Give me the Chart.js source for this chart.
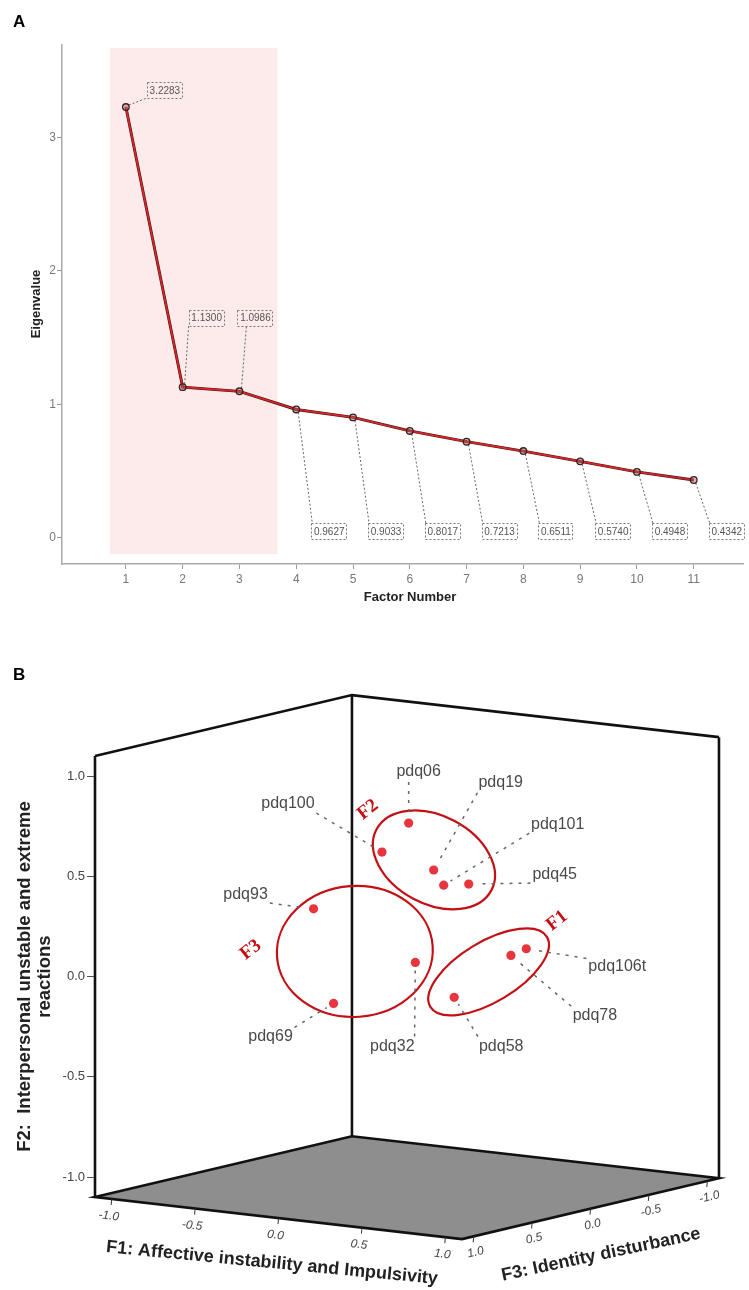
<!DOCTYPE html>
<html><head><meta charset="utf-8">
<script src="https://cdn.jsdelivr.net/npm/chart.js@4.4.1/dist/chart.umd.min.js"></script>
<style>
html,body{margin:0;padding:0;background:#fff;}
canvas{display:block;}
</style></head>
<body>
<canvas id="chartA" width="749" height="640"></canvas>
<canvas id="chartB" width="749" height="650"></canvas>
<script>
// ================= Panel A data (scree plot) =================
const factorNumbers = [1, 2, 3, 4, 5, 6, 7, 8, 9, 10, 11];
const eigenvalues = [3.2283, 1.1300, 1.0986, 0.9627, 0.9033, 0.8017, 0.7213, 0.6511, 0.5740, 0.4948, 0.4342];
const eigenTicks = [0, 1, 2, 3];
const retainedFactors = [1, 2, 3];
const titleA = { x: 'Factor Number', y: 'Eigenvalue' };

// ================= Panel B data (3D loading plot) =================
const items   = ['pdq06', 'pdq100', 'pdq19', 'pdq101', 'pdq45', 'pdq93', 'pdq69', 'pdq32', 'pdq58', 'pdq78', 'pdq106t'];
const loadF1  = [0.08, -0.08, 0.23, 0.29, 0.44, -0.14, -0.02, 0.33, 0.50, 0.70, 0.75];
const loadF2  = [0.74, 0.58, 0.52, 0.45, 0.47, 0.36, -0.10, 0.11, -0.06, 0.14, 0.17];
const loadF3  = [0.10, 0.10, 0.10, 0.10, 0.10, 0.60, 0.60, 0.40, 0.31, 0.11, 0.05];
const clusterOf = ['F2', 'F2', 'F2', 'F2', 'F2', 'F3', 'F3', 'F3', 'F1', 'F1', 'F1'];
const clusterNames = ['F1', 'F2', 'F3'];
const axisTicks = [-1.0, -0.5, 0.0, 0.5, 1.0];
const f1Title = 'F1: Affective instability and Impulsivity';
const f2TitleLines = ['F2:  Interpersonal unstable and extreme', 'reactions'];
const f3Title = 'F3: Identity disturbance';

const SANS = '"Liberation Sans", Arial, Helvetica, sans-serif';
const SERIF = '"Liberation Serif", "Times New Roman", serif';

// ---------------- Panel A ----------------
function dashedBox(ctx, x, y, w, h) {
  ctx.save();
  ctx.setLineDash([2, 2]);
  ctx.strokeStyle = '#777';
  ctx.lineWidth = 1;
  ctx.strokeRect(Math.round(x) + 0.5, Math.round(y) + 0.5, w, h);
  ctx.restore();
}

const panelA = {
  id: 'panelA',
  beforeDatasetsDraw(chart) {
    const { ctx, scales: { x, y } } = chart;
    const first = retainedFactors[0], last = retainedFactors[retainedFactors.length - 1];
    const x0 = x.getPixelForValue(first - 0.28), x1 = x.getPixelForValue(last + 0.67);
    const y0 = y.getPixelForValue(3.67), y1 = y.getPixelForValue(-0.12);
    ctx.save();
    ctx.fillStyle = '#fdebeb';
    ctx.fillRect(x0, y0, x1 - x0, y1 - y0);

    // value annotations
    ctx.font = '10px ' + SANS;
    eigenvalues.forEach((v, i) => {
      const px = x.getPixelForValue(factorNumbers[i]);
      const py = y.getPixelForValue(v);
      const txt = v.toFixed(4);
      const w = Math.round(ctx.measureText(txt).width) + 4, h = 16;
      let bx, by, sx, sy, ex, ey;
      if (i === 0) {
        bx = px + 21; by = py - 25; sx = px + 3; sy = py - 2; ex = bx; ey = by + h;
      } else if (i < 3) {
        by = y.getPixelForValue(1.71);
        bx = (i === 1) ? px + 6 : px - 2;
        sx = px + 2; sy = py - 3; ex = (i === 1) ? bx : bx + 9; ey = by + h;
      } else {
        by = y.getPixelForValue(0.112);
        bx = px + 15; sx = px + 2; sy = py + 3; ex = bx + 1; ey = by;
      }
      ctx.save();
      ctx.setLineDash([2, 2]);
      ctx.strokeStyle = '#666';
      ctx.lineWidth = 1;
      ctx.beginPath(); ctx.moveTo(sx, sy); ctx.lineTo(ex, ey); ctx.stroke();
      ctx.restore();
      dashedBox(ctx, bx, by, w, h);
      ctx.fillStyle = '#555';
      ctx.textAlign = 'center';
      ctx.textBaseline = 'middle';
      ctx.fillText(txt, bx + w / 2 + 0.5, by + h / 2 + 1);
    });
    ctx.restore();
  },
  afterDraw(chart) {
    const { ctx } = chart;
    ctx.save();
    ctx.fillStyle = '#000';
    ctx.font = 'bold 17px ' + SANS;
    ctx.textAlign = 'left'; ctx.textBaseline = 'alphabetic';
    ctx.fillText('A', 13, 27);
    ctx.fillStyle = '#222';
    ctx.font = 'bold 13px ' + SANS;
    ctx.textAlign = 'center'; ctx.textBaseline = 'middle';
    ctx.fillText(titleA.x, 410, 597);
    ctx.translate(36, 304);
    ctx.rotate(-Math.PI / 2);
    ctx.fillText(titleA.y, 0, 0);
    ctx.restore();
  }
};

const screeData = factorNumbers.map((f, i) => ({ x: f, y: eigenvalues[i] }));

new Chart(document.getElementById('chartA'), {
  type: 'line',
  data: {
    datasets: [
      // drawn last (on top): red core with markers
      { data: screeData, borderColor: '#d8262b', borderWidth: 1.7, tension: 0, fill: false,
        pointRadius: 3.3, pointBackgroundColor: 'rgba(170,90,90,0.45)', pointBorderColor: '#3a2020', pointBorderWidth: 1.3 },
      // drawn first: dark outline
      { data: screeData, borderColor: '#4a1414', borderWidth: 2.9, pointRadius: 0, tension: 0, fill: false }
    ]
  },
  options: {
    responsive: false, animation: false, devicePixelRatio: 1,
    layout: { padding: { top: 45, right: 4, left: 0, bottom: 0 } },
    plugins: { legend: { display: false }, tooltip: { enabled: false } },
    scales: {
      x: {
        type: 'linear', min: -0.125, max: 11.88,
        afterBuildTicks: s => { s.ticks = factorNumbers.map(v => ({ value: v })); },
        afterFit: s => { s.height = 76; },
        grid: { display: true, drawOnChartArea: false, drawTicks: true, tickLength: 5, color: '#999', lineWidth: 1 },
        border: { display: true, color: '#aaa', width: 1.5 },
        ticks: { font: { family: SANS, size: 12 }, color: '#777', padding: 3, maxRotation: 0, autoSkip: false }
      },
      y: {
        type: 'linear', min: -0.195, max: 3.693,
        afterBuildTicks: s => { s.ticks = eigenTicks.map(v => ({ value: v })); },
        afterFit: s => { s.width = 62; },
        grid: { display: true, drawOnChartArea: false, drawTicks: true, tickLength: 5, color: '#999', lineWidth: 1 },
        border: { display: true, color: '#aaa', width: 1.5 },
        ticks: { font: { family: SANS, size: 12 }, color: '#777', padding: 1, autoSkip: false }
      }
    }
  },
  plugins: [panelA]
});

// ---------------- Panel B ----------------
const BOX = 1.1;                 // axis half-range of the cube
const CX = 0.832, CZ = 0.5825;   // oblique projection factors
const DY1 = 0.0953, DY3 = 0.138;
function project(f1, f2, f3) {
  return { x: CX * (f1 + BOX) + CZ * (BOX - f3), y: f2 - DY1 * (f1 + BOX) - DY3 * (f3 - BOX) };
}
const projected = items.map((n, i) => project(loadF1[i], loadF2[i], loadF3[i]));

const ellipseStyle = {
  F1: { off: [-8.5, 4.7], a: 68, b: 30, rot: -31, lab: [68.5, -51] },
  F2: { off: [6.6, -3], a: 65, b: 44, rot: 28, lab: [-66, -50] },
  F3: { off: [0.7, -6.8], a: 78, b: 65.5, rot: -4, lab: [-104, -1.5] }
};
const labelOffset = {
  pdq06: [10, -51], pdq100: [-94, -48], pdq19: [67, -87], pdq101: [114, -61], pdq45: [86, -9],
  pdq93: [-68, -14], pdq69: [-63, 33], pdq32: [-23, 84], pdq58: [47, 49], pdq78: [84, 60], pdq106t: [91, 18]
};

const panelB = {
  id: 'panelB',
  beforeDatasetsDraw(chart) {
    const { ctx, scales: { x, y } } = chart;
    const P = (a, b, c) => { const p = project(a, b, c); return [x.getPixelForValue(p.x), y.getPixelForValue(p.y)]; };
    const m = BOX;
    const L = P(-m, -m, m), K = P(-m, -m, -m), R = P(m, -m, -m), F = P(m, -m, m);
    const Lt = P(-m, m, m), Kt = P(-m, m, -m), Rt = P(m, m, -m);
    ctx.save();
    // floor
    ctx.beginPath();
    ctx.moveTo(...L); ctx.lineTo(...K); ctx.lineTo(...R); ctx.lineTo(...F); ctx.closePath();
    ctx.fillStyle = '#8e8e8e';
    ctx.fill();
    ctx.strokeStyle = '#111';
    ctx.lineWidth = 2.6;
    ctx.lineJoin = 'miter';
    ctx.stroke();
    // walls
    ctx.beginPath();
    ctx.moveTo(...L); ctx.lineTo(...Lt);
    ctx.moveTo(...K); ctx.lineTo(...Kt);
    ctx.moveTo(...R); ctx.lineTo(...Rt);
    ctx.moveTo(...Lt); ctx.lineTo(...Kt); ctx.lineTo(...Rt);
    ctx.stroke();

    // bottom axis ticks
    const ang1 = Math.atan2(F[1] - L[1], F[0] - L[0]);
    const ang3 = Math.atan2(R[1] - F[1], R[0] - F[0]);
    ctx.font = 'italic 12px ' + SANS;
    ctx.fillStyle = '#444';
    ctx.strokeStyle = '#333';
    ctx.lineWidth = 1;
    ctx.textAlign = 'center'; ctx.textBaseline = 'middle';
    axisTicks.forEach(v => {
      const e1 = P(v, -m, m);
      ctx.beginPath(); ctx.moveTo(e1[0], e1[1]); ctx.lineTo(e1[0] - 0.5, e1[1] + 6); ctx.stroke();
      ctx.save(); ctx.translate(e1[0] - 3, e1[1] + 17); ctx.rotate(ang1);
      ctx.fillText(v.toFixed(1), 0, 0); ctx.restore();
      const e3 = P(m, -m, v);
      ctx.beginPath(); ctx.moveTo(e3[0], e3[1]); ctx.lineTo(e3[0] - 0.5, e3[1] + 6); ctx.stroke();
      ctx.save(); ctx.translate(e3[0] + 2, e3[1] + 16); ctx.rotate(ang3);
      ctx.fillText(v.toFixed(1), 0, 0); ctx.restore();
    });

    // cluster ellipses and names
    const pix = projected.map(p => [x.getPixelForValue(p.x), y.getPixelForValue(p.y)]);
    clusterNames.forEach(c => {
      const idx = clusterOf.map((k, i) => k === c ? i : -1).filter(i => i >= 0);
      const mx = idx.reduce((s, i) => s + pix[i][0], 0) / idx.length;
      const my = idx.reduce((s, i) => s + pix[i][1], 0) / idx.length;
      const st = ellipseStyle[c];
      const cx = mx + st.off[0], cy = my + st.off[1];
      ctx.beginPath();
      ctx.ellipse(cx, cy, st.a, st.b, st.rot * Math.PI / 180, 0, Math.PI * 2);
      ctx.strokeStyle = '#c40f14';
      ctx.lineWidth = 2.2;
      ctx.stroke();
      ctx.save();
      ctx.translate(cx + st.lab[0], cy + st.lab[1]);
      ctx.rotate(-38 * Math.PI / 180);
      ctx.font = 'bold 19px ' + SERIF;
      ctx.fillStyle = '#c40f14';
      ctx.textAlign = 'center'; ctx.textBaseline = 'middle';
      ctx.fillText(c, 0, 0);
      ctx.restore();
    });

    // item labels with dashed leaders
    ctx.font = '16px ' + SANS;
    items.forEach((name, i) => {
      const [px, py] = pix[i];
      const off = labelOffset[name];
      const lx = px + off[0], ly = py + off[1];
      const hw = ctx.measureText(name).width / 2, hh = 8;
      const sx = Math.min(Math.max(px, lx - hw), lx + hw);
      const sy = Math.min(Math.max(py, ly - hh), ly + hh);
      const dx = px - sx, dy = py - sy, d = Math.hypot(dx, dy);
      const ex = px - dx / d * 8, ey = py - dy / d * 8;
      const s2x = sx + dx / d * 2, s2y = sy + dy / d * 2;
      ctx.save();
      ctx.setLineDash([3, 6]);
      ctx.strokeStyle = '#666';
      ctx.lineWidth = 1.5;
      ctx.beginPath(); ctx.moveTo(s2x, s2y); ctx.lineTo(ex, ey); ctx.stroke();
      ctx.restore();
      ctx.fillStyle = '#4a4a4a';
      ctx.textAlign = 'center'; ctx.textBaseline = 'middle';
      ctx.fillText(name, lx, ly);
    });
    ctx.restore();
  },
  afterDraw(chart) {
    const { ctx, scales: { x, y } } = chart;
    const P = (a, b, c) => { const p = project(a, b, c); return [x.getPixelForValue(p.x), y.getPixelForValue(p.y)]; };
    const m = BOX;
    ctx.save();
    ctx.fillStyle = '#000';
    ctx.font = 'bold 17px ' + SANS;
    ctx.textAlign = 'left'; ctx.textBaseline = 'alphabetic';
    ctx.fillText('B', 13, 40);

    ctx.fillStyle = '#222';
    ctx.textAlign = 'center'; ctx.textBaseline = 'middle';
    // F2 (vertical) title
    ctx.save();
    ctx.translate(25, y.getPixelForValue(0));
    ctx.rotate(-Math.PI / 2);
    ctx.font = 'bold 18.5px ' + SANS;
    ctx.fillText(f2TitleLines[0], 0, 0);
    ctx.fillText(f2TitleLines[1], 0, 20);
    ctx.restore();
    // F1 title
    const c1 = P(0, -m, m);
    ctx.save();
    ctx.translate(c1[0] - 6.5, c1[1] + 45);
    ctx.rotate(5.5 * Math.PI / 180);
    ctx.font = 'bold 18px ' + SANS;
    ctx.fillText(f1Title, 0, 0);
    ctx.restore();
    // F3 title
    const c3 = P(m, -m, 0);
    ctx.save();
    ctx.translate(c3[0] + 10.5, c3[1] + 46);
    ctx.rotate(-12 * Math.PI / 180);
    ctx.font = 'bold 18px ' + SANS;
    ctx.fillText(f3Title, 0, 0);
    ctx.restore();
    ctx.restore();
  }
};

new Chart(document.getElementById('chartB'), {
  type: 'scatter',
  data: {
    datasets: [{
      data: projected,
      pointRadius: 4.6,
      pointBackgroundColor: '#e8343c',
      pointBorderWidth: 0,
      pointBorderColor: '#e8343c'
    }]
  },
  options: {
    responsive: false, animation: false, devicePixelRatio: 1,
    layout: { padding: { top: 50, right: 30, left: 0, bottom: 52 } },
    plugins: { legend: { display: false }, tooltip: { enabled: false } },
    scales: {
      x: { type: 'linear', min: 0, max: 3.112, display: false },
      y: {
        type: 'linear', position: 'left', min: -1.304, max: 1.429,
        afterBuildTicks: s => { s.ticks = axisTicks.map(v => ({ value: v })); },
        afterFit: s => { s.width = 95; },
        grid: { display: true, drawOnChartArea: false, drawTicks: true, tickLength: 8, color: '#555', lineWidth: 1 },
        border: { display: false },
        ticks: { font: { family: SANS, size: 13 }, color: '#444', padding: 2, autoSkip: false,
                 callback: v => Number(v).toFixed(1) }
      }
    }
  },
  plugins: [panelB]
});
</script>
</body></html>
